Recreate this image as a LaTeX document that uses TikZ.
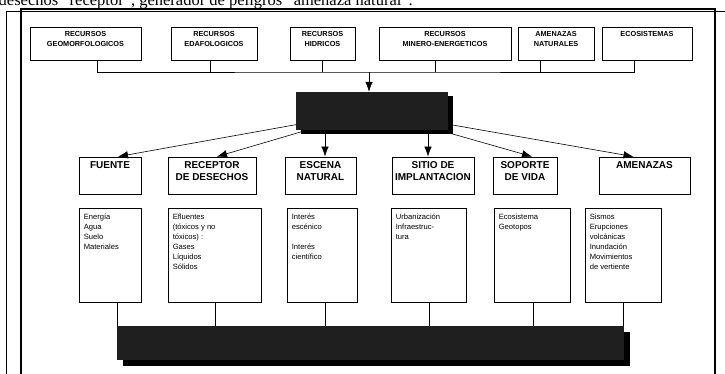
\documentclass[tikz,border=0pt]{standalone}
\usepackage{fontspec}
\setmainfont{Liberation Serif}
\setsansfont{Liberation Sans}
\usetikzlibrary{arrows.meta}

\begin{document}
\begin{tikzpicture}
        [x=1pt,y=-1pt,
        boxdecorate/.style={shape=rectangle,draw,thick,inner sep=0pt},%
        blackdecorate/.style={shape=rectangle,fill=black!88,inner sep=0pt},%
        shadowdecorate/.style={fill=black},%
        toplabel/.style={font=\sffamily\bfseries\fontsize{7.3}{9.5}\selectfont,align=center,inner sep=0pt},%
        headlabel/.style={font=\sffamily\bfseries\fontsize{10}{12}\selectfont,align=center,inner sep=0pt},%
        itemlabel/.style={font=\sffamily\fontsize{7.6}{10}\selectfont,align=left,inner sep=0pt},%
        linedecorate/.style={-,semithick},%
        arrowdecorate/.style={-{Latex[length=10pt,width=7.5pt]},semithick}]
        \useasboundingbox (0,0) rectangle (725,374);
        %% heading line, cut by the page
        \node (caption) [anchor=base east,inner sep=0pt,font=\fontsize{16.5}{19}\selectfont]
          at (413,6) {desechos "receptor", generador de peligros "amenaza natural".};
        %% frame
        \draw [thin] (6,374) -- (6,11) -- (725,11);
        \draw [line width=1.2pt] (21,374) -- (21,9) -- (715,9) -- (715,374);

        %% resources
        \foreach \nodename/\x/\w/\dx/\text in {geo/85.5/111/11.5/{RECURSOS\\GEOMORFOLOGICOS},
          eda/214/86/-4/{RECURSOS\\EDAFOLOGICOS}, hid/322.5/65/0/{RECURSOS\\HIDRICOS},
          min/445/132/-10/{RECURSOS\\MINERO-ENERGETICOS}, ame/556/76/-16/{AMENAZAS\\NATURALES},
          eco/647/90/-13/{ECOSISTEMAS}}
        {
          \node (\nodename) at (\x,43.5) [boxdecorate,minimum width=\w,minimum height=33] {};
          \node [toplabel,below] at ([yshift=-5]\nodename.north) {\text};
          \coordinate (\nodename-drop) at ([xshift=\dx]\nodename.south);
        }
        \coordinate (hub) at (369,72);

        %% dark box in the middle
        \node (black) at (372,111) [minimum width=152,minimum height=38,inner sep=0pt] {};
        \fill [shadowdecorate] ([xshift=5,yshift=-4]black.south west) rectangle ([xshift=5,yshift=-4]black.north east);
        \node at (black) [blackdecorate,minimum width=152,minimum height=38] {};

        %% functions
        \foreach \nodename/\x/\w/\text in {fuente/110/62/{FUENTE},
          receptor/212/88/{RECEPTOR\\DE DESECHOS}, escena/320.5/71/{ESCENA\\NATURAL},
          sitio/433/82/{SITIO DE\\IMPLANTACION}, soporte/525/64/{SOPORTE\\DE VIDA},
          amenazas/644.5/91/{AMENAZAS}}
        {
          \node (\nodename) at (\x,175.5) [boxdecorate,minimum width=\w,minimum height=37] {};
          \node [headlabel,below] at ([yshift=-5]\nodename.north) {\text};
        }

        %% contents
        \foreach \nodename/\x/\w/\text in {ca/110/62/{Energía\\Agua\\Suelo\\Materiales},
          cb/214.5/93/{Efluentes\\(tóxicos y no\\tóxicos) :\\Gases\\Líquidos\\Sólidos},
          cc/322/70/{Interés\\escénico\\[10pt]Interés\\científico},
          cd/428.5/75/{Urbanización\\Infraestruc-\\tura},
          ce/532/76/{Ecosistema\\Geotopos},
          cf/623/76/{Sismos\\Erupciones\\volcánicas\\Inundación\\Movimientos\\de vertiente}}
        {
          \node (\nodename) at (\x,255) [boxdecorate,minimum width=\w,minimum height=94] {};
          \node [itemlabel,anchor=north west] at ([xshift=5,yshift=-6]\nodename.north west) {\text};
        }

        %% dark bar at the bottom
        \node (bar) at (370.5,343) [minimum width=507,minimum height=34,inner sep=0pt] {};
        \fill [shadowdecorate] ([xshift=6,yshift=-6]bar.south west) rectangle ([xshift=6,yshift=-6]bar.north east);
        \node at (bar) [blackdecorate,minimum width=507,minimum height=34] {};

        %% edges or lines
        \draw [linedecorate] (geo-drop) |- (hub) -| (eco-drop);
        \foreach \nodename in {eda,hid,min,ame}
        {
          \draw [linedecorate] (\nodename-drop) -- (\nodename-drop |- hub);
        }
        \draw [arrowdecorate] (hub) -- (hub |- black.north);
        \foreach \startnode/\endnode/\dx in {black/fuente/8, black/receptor/5,
          black/soporte/7, black/amenazas/-11}
        {
          \draw [arrowdecorate] (\startnode) -- ([xshift=\dx]\endnode.north);
        }
        \foreach \endnode/\dx in {escena/4.5, sitio/-5}
        {
          \draw [arrowdecorate] ([xshift=\dx]\endnode.north |- black.south) -- ([xshift=\dx]\endnode.north);
        }
        \foreach \nodename/\dx in {ca/7, cb/0.5, cc/3, cd/0.5, ce/1, cf/0}
        {
          \draw [linedecorate] ([xshift=\dx]\nodename.south) -- ([xshift=\dx]\nodename.south |- bar.north);
        }
      \end{tikzpicture}
\end{document}
